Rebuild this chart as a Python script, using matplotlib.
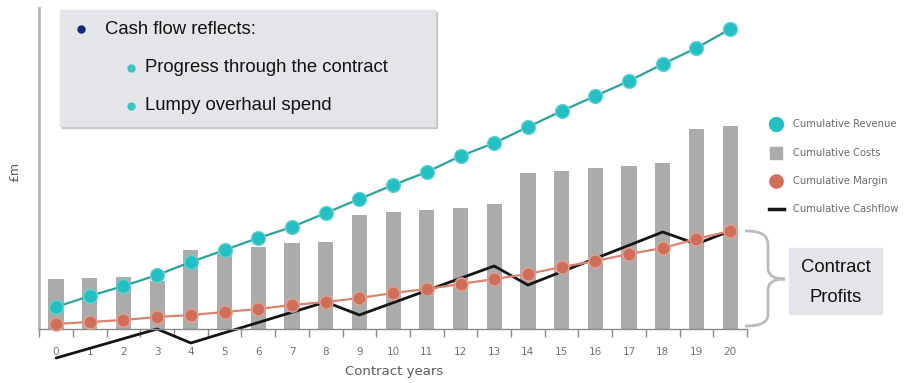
import matplotlib
matplotlib.use("Agg")
import matplotlib.pyplot as plt
from matplotlib.patches import Rectangle, PathPatch
from matplotlib.path import Path
from matplotlib.lines import Line2D

# Contract economics, cumulative £m by contract year
years = list(range(21))
revenue = [22, 33, 43, 54, 67, 79, 91, 102, 116, 130, 144, 157, 173, 186, 202,
           218, 233, 248, 265, 281, 300]
costs = [50, 51, 52, 48, 79, 75, 82, 86, 87, 114, 117, 119, 121, 125, 156,
         158, 161, 163, 166, 200, 203]
margin = [5, 7, 9, 12, 14, 17, 20, 24, 27, 31, 36, 40, 45, 50, 55, 62, 68,
          75, 81, 90, 98]
# cashflow turning points (year, value)
cash_years = [0, 3, 4, 8, 9, 13, 14, 18, 19, 20]
cashflow = [-29, 0, -14, 27, 14, 63, 44, 97, 85, 98]

series_names = ["Cumulative Revenue", "Cumulative Costs", "Cumulative Margin",
                "Cumulative Cashflow"]
box_lines = ["Cash flow reflects:", "Progress through the contract",
             "Lumpy overhaul spend"]
profit_lines = ["Contract", "Profits"]

TEAL = "#24bfc2"
TEAL_LINE = "#2aa39a"
RED = "#cf6f5a"
RED_LINE = "#d98370"
GREY_BAR = "#ababab"
PANEL = "#e4e5e9"

W, H = 908, 383
fig = plt.figure(figsize=(W / 100, H / 100), dpi=100)

# main axes placed in pixel terms
x_left, x_right = 39.2, 747.0
y_top, y_bot = 8.0, 365.0
ax = fig.add_axes([x_left / W, (H - y_bot) / H, (x_right - x_left) / W,
                   (y_bot - y_top) / H])
ax.set_xlim(-0.5, 20.5)
ax.set_ylim(-36, 321)
ax.patch.set_alpha(0)

ax.bar(years, costs, width=0.45, color=GREY_BAR, zorder=1)
ax.plot(cash_years, cashflow, color="#151515", lw=2, zorder=2.5,
        solid_capstyle="round")
ax.plot(years, revenue, color=TEAL_LINE, lw=1.6, marker="o", ms=10,
        mfc=TEAL, mec="#63d3d4", mew=1.0, zorder=4)
ax.plot(years, margin, color=RED_LINE, lw=1.6, marker="o", ms=9.5,
        mfc=RED, mec="#e4a393", mew=1.0, zorder=3)

for s in ["top", "right"]:
    ax.spines[s].set_visible(False)
ax.spines["bottom"].set_position(("data", 0))
ax.spines["bottom"].set_color("#8a8a8a")
ax.spines["bottom"].set_linewidth(1.0)
ax.spines["left"].set_color("#b4b4b4")
ax.spines["left"].set_linewidth(2.0)
ax.spines["left"].set_bounds(0, 321)

ax.set_yticks([])
ax.set_xticks(years)
ax.set_xticklabels([str(y) for y in years])
ax.set_xticks([y + 0.5 for y in range(-1, 21)], minor=True)
ax.tick_params(axis="x", which="major", length=0, pad=13, labelsize=7.5,
               labelcolor="#707070")
ax.tick_params(axis="x", which="minor", length=6, width=1, color="#8a8a8a",
               direction="out")

# overlay in pixel coordinates for annotations
ov = fig.add_axes([0, 0, 1, 1], zorder=10)
ov.set_xlim(0, W)
ov.set_ylim(H, 0)
ov.axis("off")
ov.patch.set_alpha(0)

ov.text(394, 371, "Contract years", ha="center", va="center", fontsize=9.5,
        color="#5a5a5a")
ov.text(15, 172, "£m", ha="center", va="center", fontsize=9, rotation=90,
        color="#5a5a5a")

# text panel with bullets
ov.add_patch(Rectangle((62, 12), 375, 116, color="#c6c7cb", zorder=1))
ov.add_patch(Rectangle((60, 10), 375, 116, color=PANEL, zorder=2))
ov.plot([81], [29], "o", ms=5, color="#0d2a7a", zorder=3)
ov.text(105, 29, box_lines[0], ha="left", va="center", fontsize=13.3,
        family="Liberation Sans", color="#111111", zorder=3)
for yy, txt in zip([68, 106], box_lines[1:]):
    ov.plot([131], [yy], "o", ms=5, color="#3cc4c0", zorder=3)
    ov.text(145, yy, txt, ha="left", va="center", fontsize=13.3,
            family="Liberation Sans", color="#111111", zorder=3)

# legend
leg_y = [124, 153, 181, 209]
ov.plot([776], [leg_y[0]], "o", ms=10, color=TEAL)
ov.add_patch(Rectangle((770, leg_y[1] - 6), 12, 12, color=GREY_BAR))
ov.plot([776], [leg_y[2]], "o", ms=9.5, color=RED)
ov.add_line(Line2D([769, 784], [leg_y[3], leg_y[3]], color="#151515", lw=2.5))
for yy, name in zip(leg_y, series_names):
    ov.text(793, yy, name, ha="left", va="center", fontsize=7.2,
            color="#6a6a6a")

# brace
verts = [(745, 231), (762, 231), (768, 235), (768, 246),
         (768, 268),
         (768, 276), (775, 279), (785, 279),
         (775, 279), (768, 282), (768, 290),
         (768, 314),
         (768, 322), (762, 326), (745, 326)]
codes = [Path.MOVETO, Path.CURVE4, Path.CURVE4, Path.CURVE4,
         Path.LINETO,
         Path.CURVE4, Path.CURVE4, Path.CURVE4,
         Path.CURVE4, Path.CURVE4, Path.CURVE4,
         Path.LINETO,
         Path.CURVE4, Path.CURVE4, Path.CURVE4]
ov.add_patch(PathPatch(Path(verts, codes), fill=False, edgecolor="#bcbcbc",
                       lw=2))

ov.add_patch(Rectangle((789, 248), 93, 66, color=PANEL))
ov.text(836, 268, profit_lines[0], ha="center", va="center", fontsize=13.3,
        family="Liberation Sans", color="#111111")
ov.text(836, 298, profit_lines[1], ha="center", va="center", fontsize=13.3,
        family="Liberation Sans", color="#111111")

fig.savefig("out.png", dpi=100)
